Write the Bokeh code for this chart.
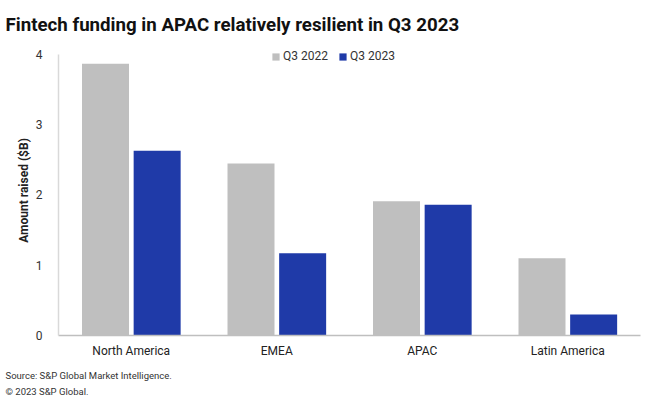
from bokeh.plotting import figure
from bokeh.models import ColumnDataSource, FactorRange, Legend, LegendItem, Title
from bokeh.transform import dodge
from bokeh.embed import file_html
from bokeh.resources import INLINE

regions = ["North America", "EMEA", "APAC", "Latin America"]
q3_2022 = [3.87, 2.45, 1.91, 1.10]
q3_2023 = [2.63, 1.17, 1.86, 0.30]
series_names = ["Q3 2022", "Q3 2023"]
y_ticks = [0, 1, 2, 3, 4]

FONT = "Roboto"
GRAY = "#bfbfbf"
BLUE = "#1f3aa8"

src = ColumnDataSource(dict(region=regions, a=q3_2022, b=q3_2023))

p = figure(width=644, height=398, x_range=FactorRange(*regions, range_padding=0),
           y_range=(0, 4.128), output_backend="svg", toolbar_location=None,
           min_border_left=58, min_border_right=4, min_border_top=45, min_border_bottom=63)
p.outline_line_color = None
p.xgrid.grid_line_color = None
p.ygrid.grid_line_color = None

r1 = p.vbar(x=dodge("region", -0.177, range=p.x_range), top="a", width=0.323, source=src,
            fill_color=GRAY, line_color=None)
r2 = p.vbar(x=dodge("region", 0.178, range=p.x_range), top="b", width=0.323, source=src,
            fill_color=BLUE, line_color=None)

legend = Legend(items=[LegendItem(label=series_names[0], renderers=[r1]),
                       LegendItem(label=series_names[1], renderers=[r2])],
                orientation="horizontal", location=(213, 272),
                label_text_font=FONT, label_text_font_size="12px", label_text_color="#333333",
                glyph_width=9, glyph_height=9, spacing=10, label_standoff=3,
                padding=4, margin=0, border_line_color=None, background_fill_alpha=0)
p.add_layout(legend, "center")

p.yaxis.ticker = y_ticks
p.yaxis.bounds = (0, 4)
p.yaxis.axis_label = "Amount raised ($B)"
p.yaxis.axis_label_text_font = FONT
p.yaxis.axis_label_text_font_size = "12px"
p.yaxis.axis_label_text_font_style = "bold"
p.yaxis.axis_label_text_color = "#222222"
p.yaxis.axis_label_standoff = 2
p.yaxis.axis_line_color = "#d9d9d9"
p.yaxis.axis_line_width = 1.5
p.yaxis.major_tick_line_color = None
p.yaxis.minor_tick_line_color = None
p.yaxis.major_label_text_font = FONT
p.yaxis.major_label_text_font_size = "12px"
p.yaxis.major_label_text_color = "#333333"
p.yaxis.major_label_standoff = 10

p.xaxis.axis_line_color = "#bfbfbf"
p.xaxis.axis_line_width = 1.5
p.xaxis.major_tick_line_color = None
p.xaxis.minor_tick_line_color = None
p.xaxis.major_label_text_font = FONT
p.xaxis.major_label_text_font_size = "12px"
p.xaxis.major_label_text_color = "#222222"
p.xaxis.major_label_standoff = 2

p.title.text = "Fintech funding in APAC relatively resilient in Q3 2023"
p.title.text_font = FONT
p.title.text_font_size = "18.7px"
p.title.text_font_style = "bold"
p.title.text_color = "#111111"
p.title.align = "left"
p.title.offset = -53
p.title.standoff = 20

src1 = Title(text="Source: S&P Global Market Intelligence.", text_font=FONT,
             text_font_size="9.5px", text_font_style="normal", text_color="#333333",
             align="left", offset=-53, standoff=15)
src2 = Title(text="© 2023 S&P Global.", text_font=FONT,
             text_font_size="9.5px", text_font_style="normal", text_color="#333333",
             align="left", offset=-53, standoff=-9)
p.add_layout(src1, "below")
p.add_layout(src2, "below")

open("out.html", "w").write(file_html(p, INLINE))
